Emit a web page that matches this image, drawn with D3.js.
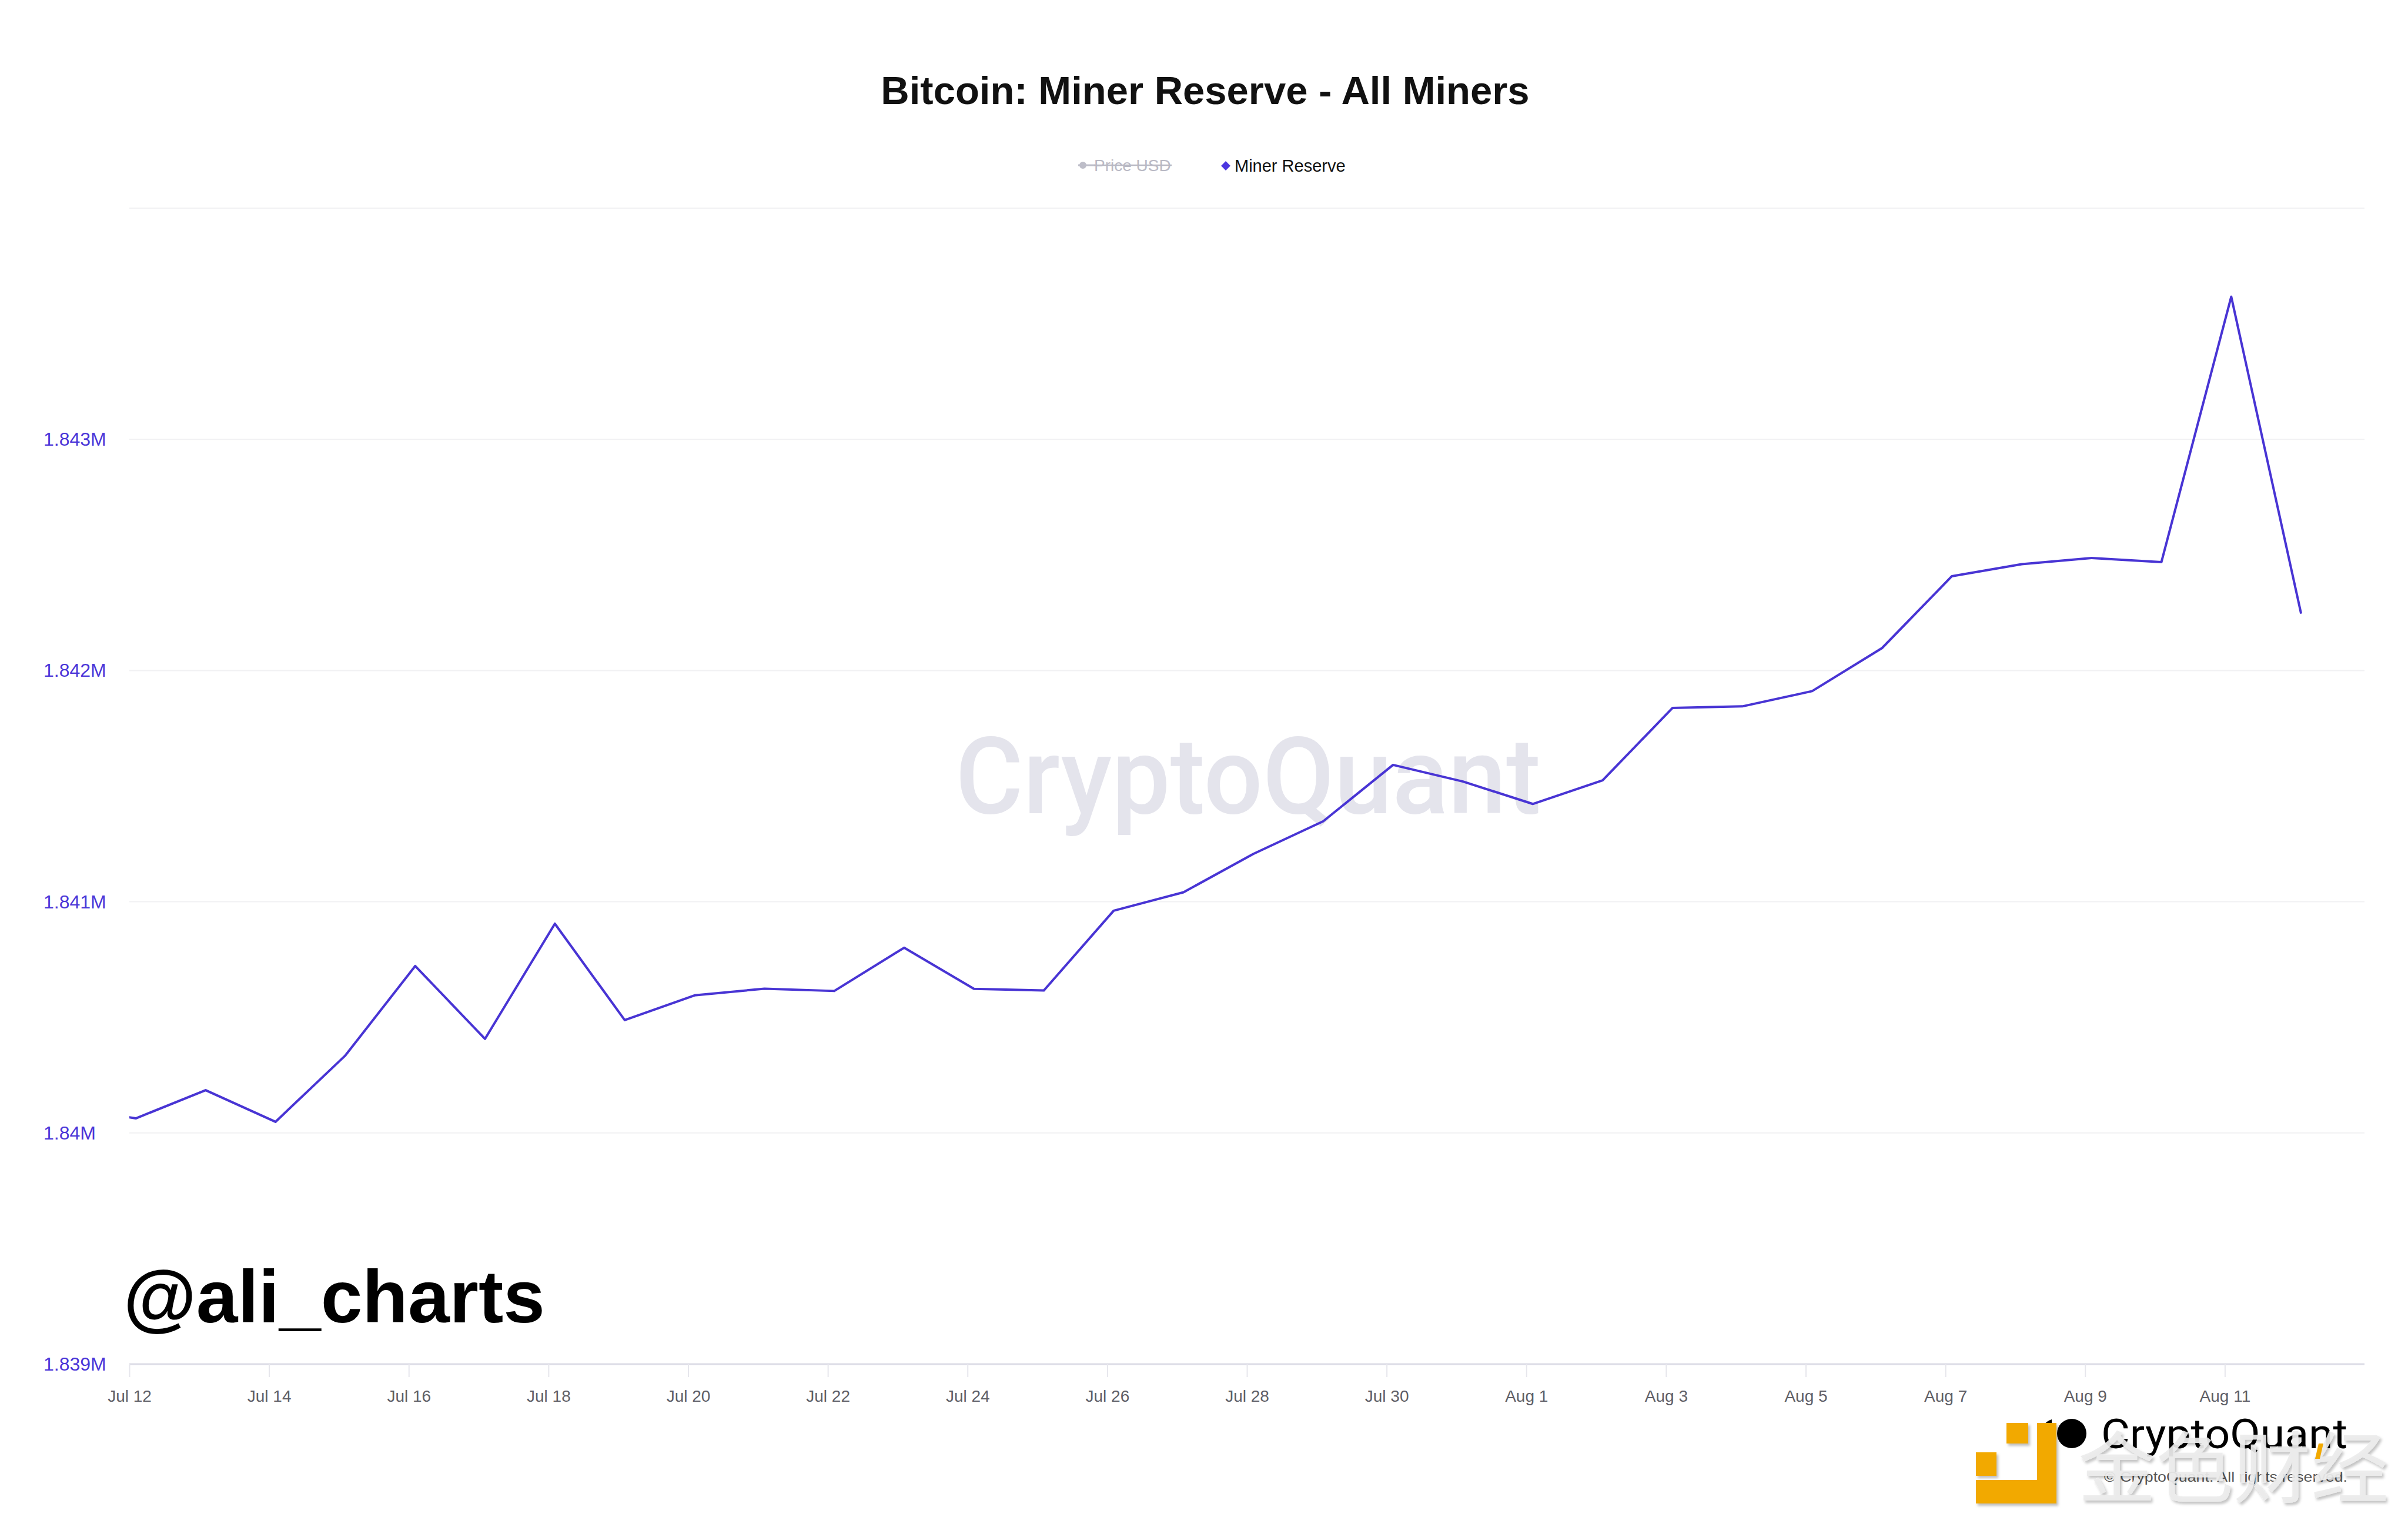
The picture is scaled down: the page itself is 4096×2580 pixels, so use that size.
<!DOCTYPE html>
<html>
<head>
<meta charset="utf-8">
<script src="https://cdn.jsdelivr.net/npm/d3@7"></script>
<style>
  html, body { margin: 0; padding: 0; background: #ffffff; }
  svg { display: block; }
</style>
</head>
<body>
<script>
// ---------- DATA ----------
const dates = [
  "2023-07-11","2023-07-12","2023-07-13","2023-07-14","2023-07-15","2023-07-16","2023-07-17",
  "2023-07-18","2023-07-19","2023-07-20","2023-07-21","2023-07-22","2023-07-23","2023-07-24",
  "2023-07-25","2023-07-26","2023-07-27","2023-07-28","2023-07-29","2023-07-30","2023-07-31",
  "2023-08-01","2023-08-02","2023-08-03","2023-08-04","2023-08-05","2023-08-06","2023-08-07",
  "2023-08-08","2023-08-09","2023-08-10","2023-08-11","2023-08-12"
];
const sampleTime = "T02:13:00Z"; // time of day of each daily sample
const minerReserve = [
  1840114, 1840063, 1840185, 1840048, 1840335, 1840722, 1840407,
  1840905, 1840488, 1840595, 1840624, 1840614, 1840801, 1840623,
  1840616, 1840961, 1841041, 1841207, 1841348, 1841592, 1841520,
  1841423, 1841525, 1841838, 1841845, 1841911, 1842097, 1842408,
  1842460, 1842487, 1842469, 1843617, 1842246
];
const xTickDates = [
  "2023-07-12","2023-07-14","2023-07-16","2023-07-18","2023-07-20","2023-07-22","2023-07-24",
  "2023-07-26","2023-07-28","2023-07-30","2023-08-01","2023-08-03","2023-08-05","2023-08-07",
  "2023-08-09","2023-08-11"
];
const yGridValues = [1839000, 1840000, 1841000, 1842000, 1843000, 1844000];
const yLabelValues = [1839000, 1840000, 1841000, 1842000, 1843000];
const xDomain = ["2023-07-12", "2023-08-13"];
const yDomain = [1839000, 1844000];
const legendItems = ["Price USD", "Miner Reserve"];
const titleText = "Bitcoin: Miner Reserve - All Miners";

// ---------- LAYOUT ----------
const W = 4096, H = 2580;
const plot = { left: 220, right: 4022, top: 354, bottom: 2320 };
const lineColor = "#4834d4";
const labelBlue = "#4a35d8";

const parseDay = s => new Date(s + "T00:00:00Z");
const data = dates.map((d, i) => ({ date: new Date(d + sampleTime), value: minerReserve[i] }));

const x = d3.scaleUtc().domain(xDomain.map(parseDay)).range([plot.left, plot.right]);
const y = d3.scaleLinear().domain(yDomain).range([plot.bottom, plot.top]);

const svg = d3.select("body").append("svg")
  .attr("width", W).attr("height", H)
  .attr("viewBox", `0 0 ${W} ${H}`)
  .style("font-family", "'Liberation Sans', Arial, Helvetica, sans-serif");

svg.append("rect").attr("width", W).attr("height", H).attr("fill", "#ffffff");

const defs = svg.append("defs");
defs.append("clipPath").attr("id", "plotClip")
  .append("rect")
  .attr("x", plot.left).attr("y", plot.top - 10)
  .attr("width", plot.right - plot.left).attr("height", plot.bottom - plot.top + 10);

const shadow = defs.append("filter").attr("id", "wmShadow")
  .attr("x", "-10%").attr("y", "-10%").attr("width", "130%").attr("height", "130%");
shadow.append("feDropShadow").attr("dx", 3).attr("dy", 4).attr("stdDeviation", 2)
  .attr("flood-color", "#000").attr("flood-opacity", 0.25);

// ---------- TITLE ----------
svg.append("text")
  .attr("x", 2050).attr("y", 177)
  .attr("text-anchor", "middle")
  .attr("font-size", 67).attr("font-weight", "bold").attr("fill", "#111")
  .text(titleText);

// ---------- LEGEND ----------
const lg = svg.append("g");
// Price USD (disabled)
lg.append("line").attr("x1", 1834).attr("x2", 1862).attr("y1", 281).attr("y2", 281)
  .attr("stroke", "#bdbdc8").attr("stroke-width", 3);
lg.append("circle").attr("cx", 1842).attr("cy", 281).attr("r", 6).attr("fill", "#bdbdc8");
lg.append("text").attr("x", 1861).attr("y", 291)
  .attr("font-size", 28).attr("fill", "#b9b9c4").text(legendItems[0]);
lg.append("line").attr("x1", 1861).attr("x2", 1993).attr("y1", 281).attr("y2", 281)
  .attr("stroke", "#b9b9c4").attr("stroke-width", 2.5);
// Miner Reserve
lg.append("path")
  .attr("d", d3.symbol().type(d3.symbolDiamond2).size(160)())
  .attr("transform", "translate(2085,282)")
  .attr("fill", "#4b36e0");
lg.append("text").attr("x", 2100).attr("y", 292)
  .attr("font-size", 29).attr("fill", "#111").text(legendItems[1]);

// ---------- WATERMARK ----------
svg.append("text")
  .attr("x", 1625).attr("y", 1383)
  .attr("font-family", "Roboto, 'Liberation Sans', sans-serif")
  .attr("font-weight", 500)
  .attr("font-size", 182)
  .attr("textLength", 996).attr("lengthAdjust", "spacingAndGlyphs")
  .attr("fill", "#e4e4ec")
  .text("CryptoQuant");

// ---------- GRID ----------
svg.append("g").selectAll("line").data(yGridValues.filter(v => v !== yDomain[0])).join("line")
  .attr("x1", plot.left).attr("x2", plot.right)
  .attr("y1", d => y(d)).attr("y2", d => y(d))
  .attr("stroke", "#f1f1f3").attr("stroke-width", 2);

// ---------- Y LABELS ----------
const fmt = d3.format(".4~s");
svg.append("g").selectAll("text").data(yLabelValues).join("text")
  .attr("x", 74).attr("y", d => y(d))
  .attr("dominant-baseline", "central")
  .attr("font-size", 32).attr("fill", labelBlue)
  .text(d => fmt(d));

// ---------- X AXIS ----------
const xAxis = d3.axisBottom(x)
  .tickValues(xTickDates.map(parseDay))
  .tickFormat(d3.utcFormat("%b %-d"))
  .tickSize(22).tickPadding(22);
const gx = svg.append("g").attr("transform", `translate(0,${plot.bottom})`).call(xAxis);
gx.select(".domain").attr("stroke", "#dcdce6").attr("stroke-width", 3)
  .attr("d", `M${plot.left},0H${plot.right}`);
gx.selectAll(".tick line").attr("stroke", "#e6e6ec").attr("stroke-width", 2);
gx.selectAll(".tick text")
  .attr("font-size", 28).attr("fill", "#5e5e66")
  .attr("font-family", "'Liberation Sans', Arial, sans-serif");

// ---------- LINE ----------
const line = d3.line().x(d => x(d.date)).y(d => y(d.value));
svg.append("path")
  .datum(data)
  .attr("clip-path", "url(#plotClip)")
  .attr("fill", "none")
  .attr("stroke", lineColor)
  .attr("stroke-width", 4)
  .attr("stroke-linejoin", "round")
  .attr("d", line);

// ---------- @ali_charts ----------
svg.append("text")
  .attr("x", 210).attr("y", 2249)
  .attr("font-size", 127).attr("font-weight", "bold").attr("fill", "#000")
  .text("@ali_charts");

// ---------- CRYPTOQUANT LOGO (bottom right) ----------
const logo = svg.append("g");
logo.append("path")
  .attr("d", "M3490,2414 A25,25 0 0,0 3490,2462 Z")
  .attr("fill", "#000");
logo.append("circle").attr("cx", 3524).attr("cy", 2438).attr("r", 25).attr("fill", "#000");
logo.append("text")
  .attr("x", 3574).attr("y", 2463)
  .attr("font-family", "Roboto, 'Liberation Sans', sans-serif")
  .attr("font-size", 70)
  .attr("textLength", 419).attr("lengthAdjust", "spacingAndGlyphs")
  .attr("fill", "#000").text("CryptoQuant");
logo.append("text")
  .attr("x", 3579).attr("y", 2520)
  .attr("font-size", 24)
  .attr("textLength", 414).attr("lengthAdjust", "spacingAndGlyphs")
  .attr("fill", "#555").text("© CryptoQuant. All rights reserved.");

// ---------- 金色财经 watermark overlay ----------
const jw = svg.append("g").attr("filter", "url(#wmShadow)");
const orange = "#f2a900";
jw.append("rect").attr("x", 3413).attr("y", 2420).attr("width", 37).attr("height", 35).attr("fill", orange);
jw.append("rect").attr("x", 3465).attr("y", 2420).attr("width", 33).attr("height", 137).attr("fill", orange);
jw.append("rect").attr("x", 3361).attr("y", 2517).attr("width", 137).attr("height", 40).attr("fill", orange);
jw.append("rect").attr("x", 3361).attr("y", 2470).attr("width", 35).attr("height", 40).attr("fill", orange);
jw.append("text")
  .attr("x", 3535).attr("y", 2545)
  .attr("font-family", "'Noto Sans CJK SC', sans-serif")
  .attr("font-size", 132)
  .attr("fill", "#ececec").attr("fill-opacity", 0.92)
  .text("金色财经");
jw.append("path").attr("d", "M3944,2455 L3952,2455 L3946,2481 L3938,2481 Z").attr("fill", orange);
</script>
</body>
</html>
